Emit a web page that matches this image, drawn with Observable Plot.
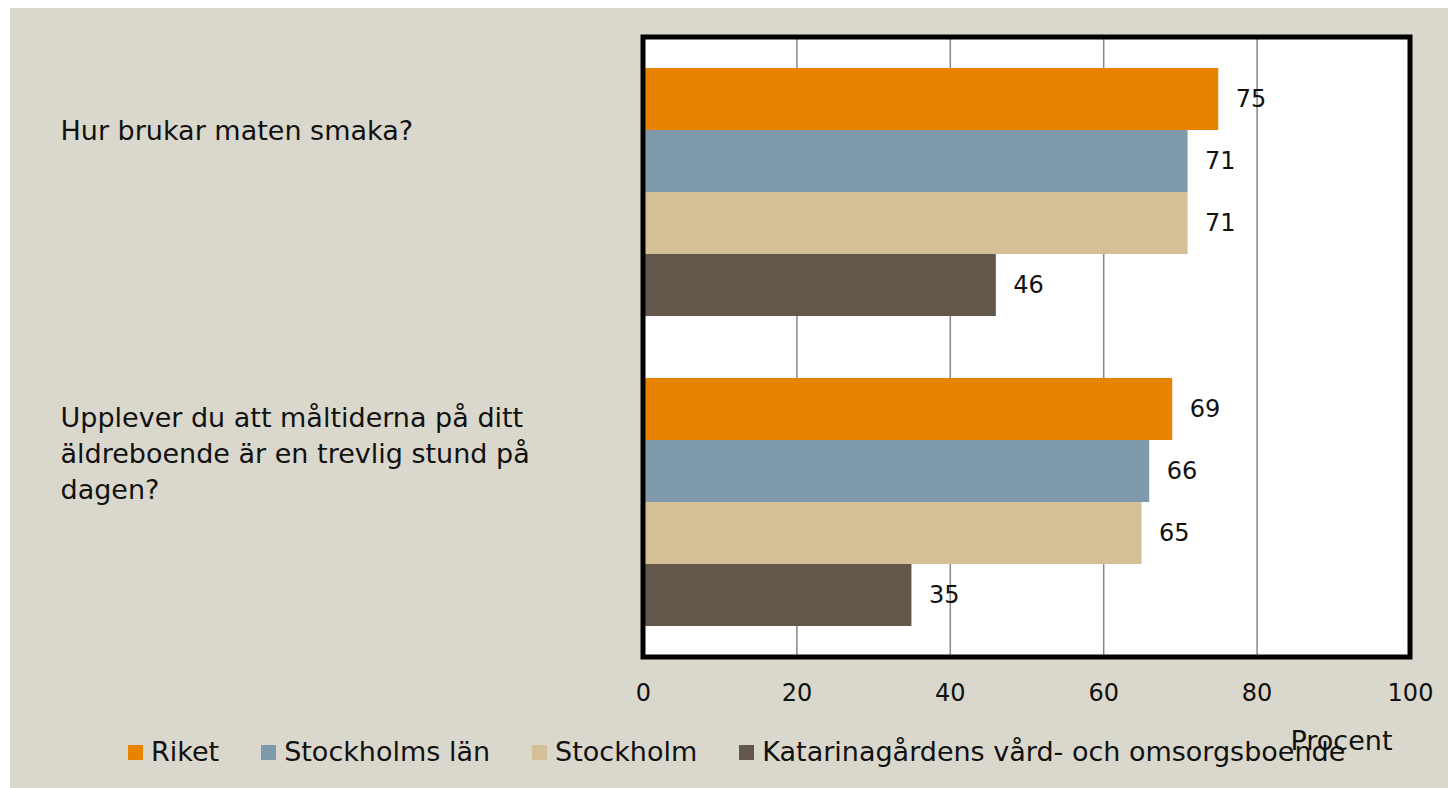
<!DOCTYPE html>
<html>
<head>
<meta charset="utf-8">
<script src="https://cdn.jsdelivr.net/npm/d3@7"></script>
<script src="https://cdn.jsdelivr.net/npm/@observablehq/plot@0.6"></script>
<style>
  html, body { margin: 0; padding: 0; background: #ffffff; }
  #wrap { position: relative; margin: 8px 0 0 10px; width: 1438px; height: 780px; background: #dad8cc; overflow: hidden; font-family: "DejaVu Sans", sans-serif; }
  #wrap svg { position: absolute; left: 0; top: 0; }
  #legend { position: absolute; left: 118px; top: 728px; display: flex; align-items: center; gap: 42px; font-size: 27px; color: #111; line-height: 32px; white-space: nowrap; }
  #legend .item { display: flex; align-items: center; gap: 8px; }
  #legend .sw { width: 15px; height: 15px; display: inline-block; }
</style>
</head>
<body>
<div id="wrap"></div>
<script>
// ---- data ----
const questions = [
  "Hur brukar maten smaka?",
  "Upplever du att måltiderna på ditt äldreboende är en trevlig stund på dagen?"
];
const questionLabels = [
  "Hur brukar maten smaka?",
  "Upplever du att måltiderna på ditt\näldreboende är en trevlig stund på\ndagen?"
];
const series = ["Riket", "Stockholms län", "Stockholm", "Katarinagårdens vård- och omsorgsboende"];
const riket = [75, 69];
const stockholmsLan = [71, 66];
const stockholm = [71, 65];
const katarina = [46, 35];
const colors = ["#e88300", "#7f9aab", "#d4bf96", "#63574b"];
const xTicks = [0, 20, 40, 60, 80, 100];
const gridTicks = [20, 40, 60, 80];
const xLabel = "Procent";

const seriesValues = [riket, stockholmsLan, stockholm, katarina];
const rows = [];
questions.forEach((q, qi) => {
  series.forEach((s, si) => rows.push({question: q, series: s, value: seriesValues[si][qi]}));
});

const W = 1438, H = 760, mL = 633, mR = 38, mT = 29, mB = 111;

const plot = Plot.plot({
  width: W, height: H,
  marginLeft: mL, marginRight: mR, marginTop: mT, marginBottom: mB,
  style: {background: "transparent", fontFamily: "DejaVu Sans, sans-serif", fontSize: "24px", color: "#111", overflow: "visible"},
  x: {domain: [0, 100], ticks: xTicks, tickSize: 0, tickPadding: 26, label: null},
  y: {domain: series, axis: null, paddingInner: 0, paddingOuter: 0.5},
  fy: {domain: questions, axis: null, padding: 0},
  color: {domain: series, range: colors},
  marks: [
    Plot.frame({fill: "white", stroke: "white", strokeWidth: 1}),
    Plot.ruleX(gridTicks, {x: d => d, stroke: "#878787", strokeWidth: 1.5}),
    Plot.barX(rows, {x: "value", y: "series", fy: "question", fill: "series", insetTop: 0, insetBottom: 0}),
    Plot.text(rows, {x: "value", y: "series", fy: "question", text: d => String(d.value), textAnchor: "start", dx: 17, fontSize: 24, fill: "#111"}),
    Plot.text([questions[0]], {fy: d => d, text: () => questionLabels[0], frameAnchor: "left", textAnchor: "start", dx: -(mL - 50), dy: -64, fontSize: 27, lineHeight: 1.33, fill: "#111"}),
    Plot.text([questions[1]], {fy: d => d, text: () => questionLabels[1], frameAnchor: "left", textAnchor: "start", dx: -(mL - 50), dy: -51, fontSize: 27, lineHeight: 1.33, fill: "#111"}),
    Plot.text([xLabel], {fy: () => questions[questions.length - 1], text: d => d, frameAnchor: "bottom-right", textAnchor: "end", lineAnchor: "middle", dx: -18, dy: 84, fontSize: 27, fill: "#111"})
  ]
});

// outer black border of the plot area, positioned via the plot's x scale
const xs = plot.scale("x");
const x0 = xs.apply(0), x1 = xs.apply(100);
d3.select(plot).append("rect")
  .attr("x", x0).attr("y", mT)
  .attr("width", x1 - x0).attr("height", H - mT - mB)
  .attr("fill", "none").attr("stroke", "#000").attr("stroke-width", 5);

const wrap = document.getElementById("wrap");
wrap.appendChild(plot);

// legend
const legend = d3.select(wrap).append("div").attr("id", "legend");
series.forEach((s, i) => {
  const it = legend.append("div").attr("class", "item");
  it.append("span").attr("class", "sw").style("background", colors[i]);
  it.append("span").text(s);
});
</script>
</body>
</html>
